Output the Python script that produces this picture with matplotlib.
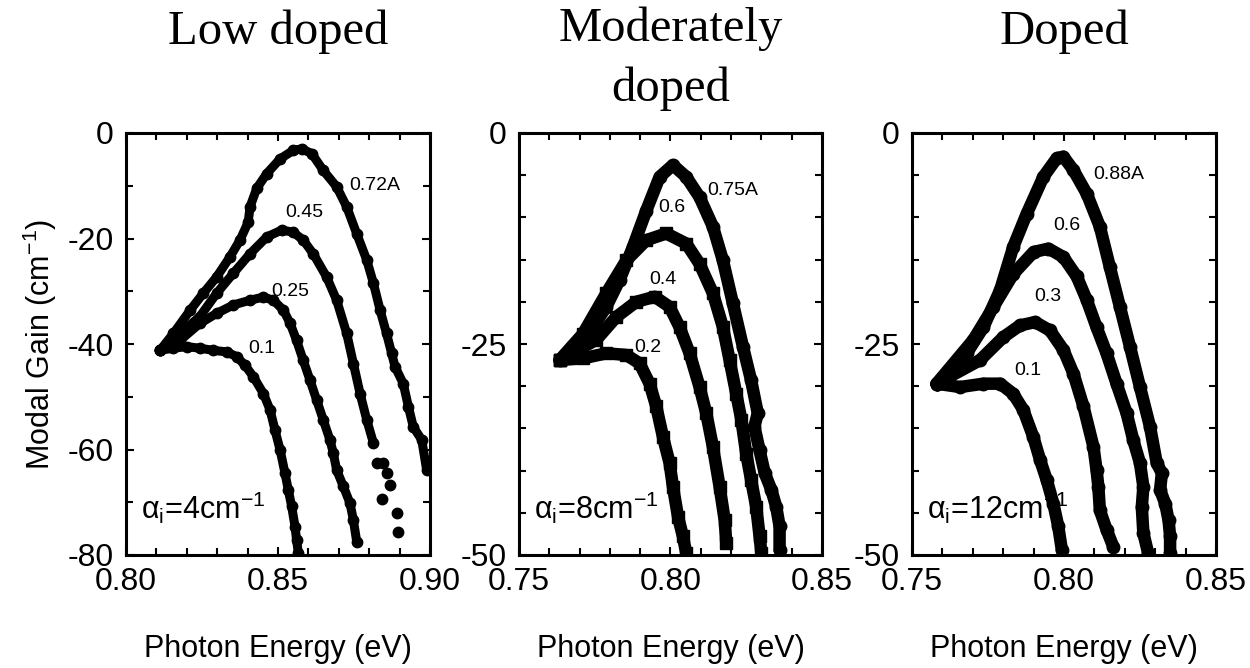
import matplotlib
matplotlib.use("Agg")
import matplotlib.pyplot as plt
from matplotlib.ticker import MultipleLocator
from matplotlib import font_manager

# ---------------- data ----------------
titles = ["Low doped", "Moderately\ndoped", "Doped"]
alpha_labels = [r"$\alpha_i$=4cm$^{-1}$", r"$\alpha_i$=8cm$^{-1}$", r"$\alpha_i$=12cm$^{-1}$"]

# Panel 1 (low doped)
p1_E_010 = [0.8112, 0.8156, 0.8200, 0.8243, 0.8287, 0.8331, 0.8364, 0.8391, 0.8419, 0.8452, 0.8474, 0.8490, 0.8507, 0.8523, 0.8534, 0.8545, 0.8556, 0.8561, 0.8567]
p1_G_010 = [-41.2, -40.8, -40.5, -40.8, -41.2, -41.5, -42.4, -44.0, -46.2, -49.4, -52.5, -56.3, -60.1, -64.5, -67.7, -70.8, -74.6, -77.1, -79.7]
p1_E_025 = [0.8112, 0.8178, 0.8243, 0.8298, 0.8353, 0.8408, 0.8452, 0.8485, 0.8518, 0.8540, 0.8561, 0.8583, 0.8605, 0.8627, 0.8649, 0.8671, 0.8682, 0.8693, 0.8715, 0.8737, 0.8748, 0.8759]
p1_G_025 = [-41.2, -39.3, -36.1, -34.2, -32.6, -31.7, -31.1, -31.7, -33.6, -36.1, -39.3, -43.1, -46.8, -50.6, -54.4, -58.2, -60.7, -63.9, -67.0, -70.2, -73.4, -77.5]
p1_E_045 = [0.8112, 0.8178, 0.8243, 0.8298, 0.8353, 0.8408, 0.8463, 0.8512, 0.8550, 0.8583, 0.8616, 0.8660, 0.8693, 0.8726, 0.8748, 0.8770, 0.8792, 0.8814]
p1_G_045 = [-41.2, -38.0, -34.8, -30.4, -26.6, -22.9, -19.7, -18.4, -18.8, -20.3, -22.9, -27.3, -31.7, -38.0, -43.7, -49.4, -54.4, -58.8]
p1_E_072 = [0.8112, 0.8156, 0.8211, 0.8254, 0.8298, 0.8342, 0.8375, 0.8402, 0.8408, 0.8430, 0.8463, 0.8507, 0.8550, 0.8578, 0.8611, 0.8649, 0.8693, 0.8726, 0.8759, 0.8792, 0.8814, 0.8836, 0.8857, 0.8874, 0.8885, 0.8912, 0.8929, 0.8945, 0.8973, 0.8989]
p1_G_072 = [-41.2, -38.0, -33.6, -30.4, -27.3, -23.5, -20.3, -16.9, -14.0, -10.5, -7.7, -4.9, -3.3, -3.0, -3.9, -7.1, -10.2, -14.0, -19.1, -24.1, -28.5, -33.6, -38.0, -41.8, -44.3, -47.5, -51.9, -55.7, -58.2, -63.9]
p1_tail_E = [0.8825, 0.8846, 0.8857, 0.8868, 0.8841, 0.8890, 0.8896]
p1_tail_G = [-62.6, -62.6, -64.5, -66.7, -69.3, -72.1, -75.6]

# Panel 2 (moderately doped)
p2_E_020 = [0.7634, 0.7711, 0.7788, 0.7854, 0.7898, 0.7931, 0.7953, 0.7975, 0.7997, 0.8008, 0.8025, 0.8041, 0.8052]
p2_G_020 = [-26.9, -26.7, -26.1, -26.3, -27.3, -29.7, -32.4, -36.0, -39.1, -41.9, -45.5, -47.8, -49.8]
p2_E_040 = [0.7634, 0.7755, 0.7821, 0.7887, 0.7948, 0.7997, 0.8030, 0.8063, 0.8096, 0.8118, 0.8140, 0.8162, 0.8179, 0.8184]
p2_G_040 = [-26.9, -24.5, -21.8, -20.0, -19.4, -20.6, -23.0, -26.1, -30.1, -33.2, -37.2, -41.9, -45.9, -48.6]
p2_E_060 = [0.7634, 0.7711, 0.7788, 0.7854, 0.7920, 0.7986, 0.8052, 0.8096, 0.8140, 0.8173, 0.8195, 0.8217, 0.8234, 0.8250, 0.8266, 0.8283, 0.8294, 0.8300]
p2_G_060 = [-26.9, -23.8, -19.0, -15.1, -12.7, -11.9, -13.1, -15.5, -19.0, -23.0, -26.9, -30.9, -34.0, -38.0, -41.1, -44.3, -47.8, -49.8]
p2_E_075 = [0.7634, 0.7700, 0.7744, 0.7788, 0.7832, 0.7876, 0.7920, 0.7964, 0.8008, 0.8052, 0.8096, 0.8140, 0.8173, 0.8206, 0.8239, 0.8266, 0.8288, 0.8277, 0.8294, 0.8311, 0.8333, 0.8349, 0.8360, 0.8360]
p2_G_075 = [-26.9, -25.3, -23.0, -20.6, -17.4, -13.5, -9.2, -5.2, -3.8, -5.2, -7.6, -11.1, -15.1, -20.2, -25.3, -29.3, -33.2, -34.8, -37.6, -40.3, -42.3, -44.3, -46.6, -49.4]

# Panel 3 (doped)
p3_E_010 = [0.7581, 0.7658, 0.7735, 0.7790, 0.7833, 0.7866, 0.7899, 0.7921, 0.7943, 0.7965, 0.7981, 0.7993]
p3_G_010 = [-29.7, -30.1, -29.7, -29.7, -30.9, -32.8, -36.0, -38.7, -41.1, -43.9, -46.6, -49.4]
p3_E_030 = [0.7581, 0.7724, 0.7800, 0.7855, 0.7905, 0.7954, 0.7998, 0.8031, 0.8064, 0.8097, 0.8107, 0.8113, 0.8118, 0.8140, 0.8162]
p3_G_030 = [-29.7, -26.9, -24.2, -22.8, -22.4, -23.4, -25.7, -28.5, -32.4, -37.2, -39.9, -41.9, -44.7, -47.0, -49.0]
p3_E_060 = [0.7581, 0.7702, 0.7768, 0.7833, 0.7900, 0.7949, 0.7998, 0.8042, 0.8075, 0.8107, 0.8140, 0.8173, 0.8206, 0.8228, 0.8250, 0.8261, 0.8256, 0.8261, 0.8277]
p3_G_060 = [-29.7, -24.5, -20.6, -16.7, -14.1, -13.7, -14.7, -17.0, -19.8, -23.0, -26.1, -29.7, -33.2, -36.4, -39.1, -41.9, -44.3, -47.4, -49.8]
p3_E_088 = [0.7581, 0.7680, 0.7735, 0.7790, 0.7833, 0.7877, 0.7932, 0.7976, 0.7998, 0.8031, 0.8075, 0.8118, 0.8151, 0.8184, 0.8217, 0.8250, 0.8283, 0.8305, 0.8322, 0.8316, 0.8333, 0.8344, 0.8349, 0.8349]
p3_G_088 = [-29.7, -26.1, -23.0, -18.6, -13.5, -9.6, -5.2, -3.0, -2.8, -4.4, -7.2, -11.1, -15.9, -20.6, -25.3, -30.1, -34.8, -39.1, -40.3, -42.3, -43.9, -45.9, -47.8, -49.8]

# curve labels: (text, energy, gain)
p1_labels = [("0.72A", 0.8819, -9.9), ("0.45", 0.8586, -15.0), ("0.25", 0.8540, -30.0), ("0.1", 0.8447, -40.8)]
p2_labels = [("0.75A", 0.8206, -6.8), ("0.6", 0.8005, -8.8), ("0.4", 0.7975, -17.4), ("0.2", 0.7926, -25.4)]
p3_labels = [("0.88A", 0.8181, -4.9), ("0.6", 0.8010, -11.0), ("0.3", 0.7947, -19.4), ("0.1", 0.7882, -28.1)]

xlims = [(0.80, 0.90), (0.75, 0.85), (0.75, 0.85)]
ylims = [(-80, 0), (-50, 0), (-50, 0)]
ymajor = [20, 25, 25]
yminor = [10, 5, 5]

# ---------------- fonts ----------------
names = {f.name for f in font_manager.fontManager.ttflist}
sans = "Liberation Sans Narrow" if "Liberation Sans Narrow" in names else "Liberation Sans"
plt.rcParams["font.family"] = [sans, "DejaVu Sans"]
plt.rcParams["mathtext.fontset"] = "custom"
plt.rcParams["mathtext.rm"] = sans
plt.rcParams["mathtext.it"] = sans
plt.rcParams["mathtext.sf"] = sans
plt.rcParams["mathtext.default"] = "regular"

W, H = 1250, 668
fig = plt.figure(figsize=(W / 100, H / 100), dpi=100)

ax_px = [(126, 430), (519, 822), (912, 1216)]
top_px, bot_px = 133, 555

series = [
    [(p1_E_010, p1_G_010, "o"), (p1_E_025, p1_G_025, "o"), (p1_E_045, p1_G_045, "o"), (p1_E_072, p1_G_072, "o")],
    [(p2_E_020, p2_G_020, "s"), (p2_E_040, p2_G_040, "s"), (p2_E_060, p2_G_060, "s"), (p2_E_075, p2_G_075, "o")],
    [(p3_E_010, p3_G_010, "o"), (p3_E_030, p3_G_030, "o"), (p3_E_060, p3_G_060, "o"), (p3_E_088, p3_G_088, "o")],
]
labels = [p1_labels, p2_labels, p3_labels]
lws = [6.5, 9, 9]
mss = [7.5, 9, 9]

TICK_FS = 23
LABEL_FS = 22

for i in range(3):
    l, r = ax_px[i]
    ax = fig.add_axes([l / W, (H - bot_px) / H, (r - l) / W, (bot_px - top_px) / H])
    for E, G, m in series[i]:
        ax.plot(E, G, color="black", lw=lws[i], solid_capstyle="round", solid_joinstyle="round",
                marker=m, ms=mss[i], mfc="black", mec="black")
    if i == 0:
        ax.plot(p1_tail_E, p1_tail_G, "o", color="black", ms=mss[0])
    for txt, e, g in labels[i]:
        ax.text(e, g, txt, fontsize=14, ha="center", va="center")
    ax.set_xlim(*xlims[i])
    ax.set_ylim(*ylims[i])
    ax.xaxis.set_major_locator(MultipleLocator(0.05))
    ax.xaxis.set_minor_locator(MultipleLocator(0.01))
    ax.yaxis.set_major_locator(MultipleLocator(ymajor[i]))
    ax.yaxis.set_minor_locator(MultipleLocator(yminor[i]))
    ax.xaxis.set_major_formatter(plt.FuncFormatter(lambda v, p: f"{v:.2f}"))
    ax.yaxis.set_major_formatter(plt.FuncFormatter(lambda v, p: f"{v:.0f}"))
    ax.tick_params(which="both", direction="in", top=True, right=True, width=1.5, labelsize=TICK_FS)
    ax.tick_params(which="major", length=6)
    ax.tick_params(which="minor", length=5)
    ax.tick_params(axis="x", which="major", pad=9)
    ax.tick_params(axis="y", which="major", pad=9)
    for s in ax.spines.values():
        s.set_linewidth(2.2)
    ax.set_xlabel("Photon Energy (eV)", fontsize=LABEL_FS, labelpad=26)
    if i == 0:
        ax.set_ylabel("Modal Gain (cm$^{-1}$)", fontsize=LABEL_FS, labelpad=6)
    ax.text(0.05, 0.085, alpha_labels[i], transform=ax.transAxes, fontsize=22, ha="left", va="baseline")
    nlines = titles[i].count("\n")
    base_px = 44 + 57 * nlines
    fig.text((l + r) / 2 / W, 1 - base_px / H, titles[i], family="Liberation Serif", fontsize=35,
             ha="center", va="baseline", linespacing=1.45)

fig.savefig("out.png", dpi=100)
